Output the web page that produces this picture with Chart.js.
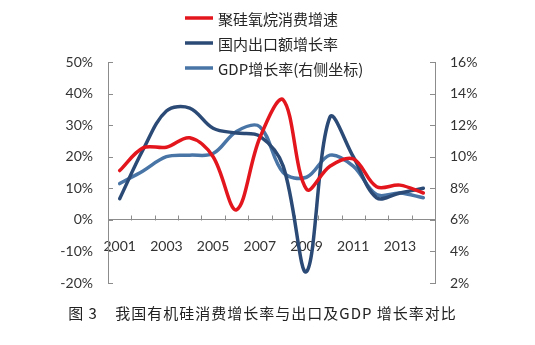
<!DOCTYPE html>
<html>
<head>
<meta charset="utf-8">
<script src="https://cdn.jsdelivr.net/npm/chart.js@4/dist/chart.umd.min.js"></script>
<style>
  body{margin:0;background:#fff;}
  #wrap{position:relative;width:535px;height:345px;}
  #caption{position:absolute;left:0;top:302px;width:525px;text-align:center;
    font:15px "Noto Sans CJK SC";color:#222;letter-spacing:1px;white-space:pre;}
</style>
</head>
<body>
<div id="wrap">
  <canvas id="growthChart" width="535" height="345"></canvas>
  <div id="caption">图 3    我国有机硅消费增长率与出口及GDP 增长率对比</div>
</div>
<script>
const years=["2001","2002","2003","2004","2005","2006","2007","2008","2009","2010","2011","2012","2013","2014"];
// 聚硅氧烷消费增速, % (left axis)
const siloxaneGrowth=[15.6,22.8,23.0,26.0,20.0,3.2,26.0,38.0,9.7,17.0,19.3,10.5,11.0,8.5];
// 国内出口额增长率, % (left axis)
const exportGrowth=[6.7,22.2,34.5,35.4,29.0,27.5,26.5,17.0,-16.4,32.5,20.0,7.0,8.5,10.0];
// GDP增长率, % (right axis)
const gdpGrowth=[8.3,9.1,10.0,10.1,10.2,11.6,11.9,9.0,8.7,10.1,9.4,7.6,7.7,7.4];

const axisGray="#8c8c8c";
const tickFont={family:"Lato",size:14};

// small tick marks pointing into the plot, like the office chart style
const innerTicks={
  id:"innerTicks",
  beforeDatasetsDraw(chart){
    const {ctx,scales:{x,y,y1}}=chart;
    ctx.save();
    ctx.strokeStyle=axisGray;
    ctx.lineWidth=1;
    ctx.beginPath();
    y.ticks.forEach(t=>{
      const p=Math.round(y.getPixelForValue(t.value))+0.5;
      ctx.moveTo(y.right,p);ctx.lineTo(y.right+5,p);
    });
    y1.ticks.forEach(t=>{
      const p=Math.round(y1.getPixelForValue(t.value))+0.5;
      ctx.moveTo(y1.left-5,p);ctx.lineTo(y1.left,p);
    });
    const base=Math.round(y.getPixelForValue(0))+0.5;
    for(let i=1;i<years.length;i++){
      const px=Math.round(x.getPixelForValue(i-0.5))+0.5;
      ctx.moveTo(px,base-5);ctx.lineTo(px,base);
    }
    ctx.stroke();
    ctx.restore();
  }
};

// legend stacked in one column, left aligned
const stackedLegend={
  id:"stackedLegend",
  afterDraw(chart,args,opts){
    const ctx=chart.ctx;
    ctx.save();
    ctx.font='15px "Noto Sans CJK SC"';
    ctx.textBaseline="middle";
    ctx.fillStyle="#262626";
    chart.data.datasets.forEach((ds,i)=>{
      const yy=opts.top+i*opts.rowGap;
      ctx.strokeStyle=ds.borderColor;
      ctx.lineWidth=ds.borderWidth;
      ctx.beginPath();
      ctx.moveTo(opts.left,yy);ctx.lineTo(opts.left+opts.lineLen,yy);
      ctx.stroke();
      ctx.fillText(ds.label,opts.left+opts.lineLen+5,yy+1);
    });
    ctx.restore();
  }
};

const pct=v=>v+"%";

new Chart(document.getElementById("growthChart"),{
  type:"line",
  data:{
    labels:years,
    datasets:[
      {label:"聚硅氧烷消费增速",data:siloxaneGrowth,yAxisID:"y",borderColor:"#e3161e",borderWidth:3.5},
      {label:"国内出口额增长率",data:exportGrowth,yAxisID:"y",borderColor:"#2b4a76",borderWidth:3.5},
      {label:"GDP增长率(右侧坐标)",data:gdpGrowth,yAxisID:"y1",borderColor:"#4874a6",borderWidth:3.5}
    ]
  },
  options:{
    responsive:false,
    animation:false,
    devicePixelRatio:1,
    layout:{padding:{top:62,bottom:62,left:0,right:0}},
    elements:{point:{radius:0},line:{tension:0.35,fill:false,borderCapStyle:"round"}},
    plugins:{
      legend:{display:false},
      tooltip:{enabled:false},
      stackedLegend:{left:185,top:18,rowGap:25,lineLen:28}
    },
    scales:{
      x:{
        type:"category",
        position:{y:0},
        offset:true,
        grid:{display:false,drawTicks:false},
        border:{color:axisGray},
        ticks:{
          autoSkip:false,maxRotation:0,padding:18,color:"#333",font:tickFont,
          callback(v,i){return i%2===0?this.getLabelForValue(v):"";}
        },
        afterFit(s){s.height=0;}
      },
      y:{
        position:"left",
        min:-20,max:50,
        grid:{display:false,drawTicks:false},
        border:{color:axisGray},
        ticks:{stepSize:10,padding:15,color:"#333",font:tickFont,callback:pct},
        afterFit(s){s.width=108;}
      },
      y1:{
        position:"right",
        min:2,max:16,
        grid:{display:false,drawTicks:false},
        border:{color:axisGray},
        ticks:{stepSize:2,padding:15,color:"#333",font:tickFont,callback:pct},
        afterFit(s){s.width=100;}
      }
    }
  },
  plugins:[innerTicks,stackedLegend]
});
</script>
</body>
</html>
